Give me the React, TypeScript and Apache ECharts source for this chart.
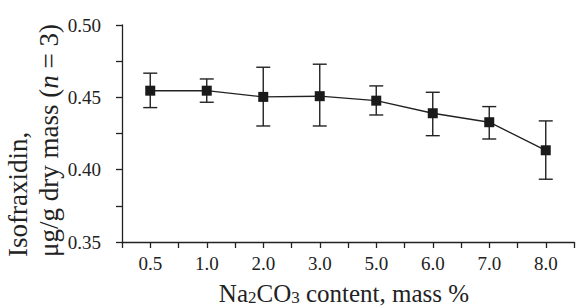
import React, { useEffect, useRef } from 'react';
import * as echarts from 'echarts';

const categories = ['0.5', '1.0', '2.0', '3.0', '5.0', '6.0', '7.0', '8.0'];
const meanValues = [0.4546, 0.4546, 0.4503, 0.4508, 0.4477, 0.439, 0.4328, 0.4134];
const upperValues = [0.4667, 0.4627, 0.4708, 0.4729, 0.4579, 0.4535, 0.4436, 0.4337];
const lowerValues = [0.4429, 0.4466, 0.4302, 0.4302, 0.4378, 0.4235, 0.4212, 0.3934];
const yTicks = [0.35, 0.4, 0.45, 0.5];

const FONT = '"Liberation Serif", "DejaVu Serif", serif';
const INK = '#222';

export default function App() {
  const ref = useRef<HTMLDivElement>(null);
  useEffect(() => {
    document.body.style.margin = '0';
    if (!ref.current) return;
    const chart = echarts.init(ref.current, undefined, { renderer: 'svg' });
    const lineData = meanValues.map((v, i) => [i, v]);
    const errData = meanValues.map((_, i) => [i, lowerValues[i], upperValues[i]]);
    chart.setOption({
      animation: false,
      backgroundColor: '#fff',
      grid: { left: 122, right: -12, top: 25, bottom: 64, containLabel: false },
      xAxis: {
        type: 'value',
        min: -0.5,
        max: 7.5,
        interval: 0.5,
        splitLine: { show: false },
        axisLine: { show: true, onZero: false, lineStyle: { color: INK, width: 1.3 } },
        axisTick: { show: true, inside: false, length: 6, lineStyle: { color: INK, width: 1.3 } },
        axisLabel: {
          color: INK,
          fontFamily: FONT,
          fontSize: 19,
          margin: 12,
          showMinLabel: true,
          showMaxLabel: true,
          formatter: (v: number) => {
            const r = Math.round(v);
            if (Math.abs(v - r) < 1e-6 && r >= 0 && r < categories.length) return categories[r];
            return '';
          },
        },
      },
      yAxis: {
        type: 'value',
        min: yTicks[0],
        max: yTicks[yTicks.length - 1],
        interval: 0.05,
        splitLine: { show: false },
        axisLine: { show: true, onZero: false, lineStyle: { color: INK, width: 1.3 } },
        axisTick: { show: true, inside: false, length: 6, lineStyle: { color: INK, width: 1.3 } },
        minorTick: { show: true, splitNumber: 2, length: 6, lineStyle: { color: INK, width: 1.3 } },
        axisLabel: {
          color: INK,
          fontFamily: FONT,
          fontSize: 19,
          margin: 21,
          formatter: (v: number) => v.toFixed(2),
        },
      },
      series: [
        {
          type: 'custom',
          z: 1,
          data: errData,
          renderItem: (params: any, api: any) => {
            const x = api.value(0);
            const lo = api.coord([x, api.value(1)]);
            const hi = api.coord([x, api.value(2)]);
            const w = 7;
            const style = { stroke: INK, lineWidth: 1.4 };
            return {
              type: 'group',
              children: [
                { type: 'line', shape: { x1: lo[0], y1: lo[1], x2: hi[0], y2: hi[1] }, style },
                { type: 'line', shape: { x1: hi[0] - w, y1: hi[1], x2: hi[0] + w, y2: hi[1] }, style },
                { type: 'line', shape: { x1: lo[0] - w, y1: lo[1], x2: lo[0] + w, y2: lo[1] }, style },
              ],
            };
          },
        },
        {
          type: 'line',
          z: 3,
          data: lineData,
          symbol: 'rect',
          symbolSize: 10,
          itemStyle: { color: '#1a1a1a' },
          lineStyle: { color: INK, width: 1.4 },
        },
      ],
      graphic: [
        {
          type: 'text',
          x: 18,
          y: 257,
          rotation: Math.PI / 2,
          style: {
            text: 'Isofraxidin,',
            fill: INK,
            font: `27px ${FONT}`,
            textAlign: 'left',
            textVerticalAlign: 'middle',
          },
        },
        {
          type: 'text',
          x: 49,
          y: 257,
          rotation: Math.PI / 2,
          style: {
            text: 'μg/g dry mass ({i|n} = 3)',
            fill: INK,
            font: `27px ${FONT}`,
            textAlign: 'left',
            textVerticalAlign: 'middle',
            rich: {
              i: { fontStyle: 'italic', fontSize: 27, fontFamily: FONT, fill: INK },
            },
          },
        },
        {
          type: 'text',
          x: 344,
          y: 293,
          style: {
            text: 'Na{sub|2}CO{sub|3} content, mass %',
            fill: INK,
            font: `25px ${FONT}`,
            textAlign: 'center',
            textVerticalAlign: 'middle',
            rich: {
              sub: { fontSize: 17, fontFamily: FONT, fill: INK, verticalAlign: 'bottom', lineHeight: 10 },
            },
            lineHeight: 26,
          },
        },
      ],
    });
    return () => chart.dispose();
  }, []);
  return <div ref={ref} style={{ width: 577, height: 306 }} />;
}
